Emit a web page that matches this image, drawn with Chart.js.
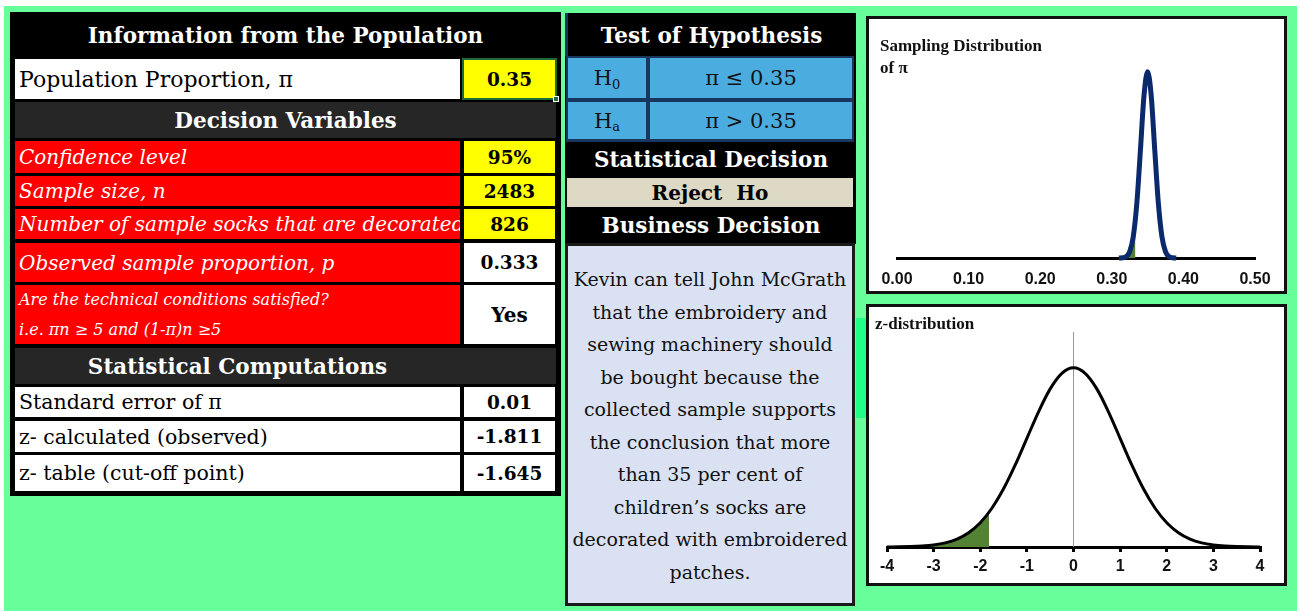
<!DOCTYPE html>
<html><head><meta charset="utf-8">
<script src="https://cdn.jsdelivr.net/npm/chart.js@4.4.0/dist/chart.umd.min.js"></script>
<style>
body{margin:0;background:#fff;width:1300px;height:611px;overflow:hidden;position:relative;font-family:"DejaVu Serif",serif;}
.a{position:absolute;box-sizing:border-box;}
.c{position:absolute;box-sizing:border-box;display:flex;align-items:center;white-space:nowrap;overflow:hidden;}
.hd{justify-content:center;color:#fff;font-weight:bold;font-size:21.5px;}
.lbl{font-size:20.5px;padding-left:4px;color:#000;}
.red{background:#ff0000;color:#fff;font-style:italic;font-size:20px;}
.val{justify-content:center;font-weight:bold;font-size:18.5px;color:#000;}
.yel{background:#ffff00;}
.wht{background:#fff;}
.blue{background:#4bace0;justify-content:center;font-size:21px;color:#111;}
.ttl{position:absolute;font-family:"Liberation Serif",serif;font-weight:bold;font-size:17px;color:#111;line-height:22px;}
</style></head>
<body>
<div class="a" style="left:4px;top:6px;width:1293px;height:605px;background:#66ff99;"></div>
<div class="a" style="left:856px;top:318px;width:10px;height:100px;background:#22ff88;"></div>

<!-- left table -->
<div class="a" style="left:10px;top:12px;width:551px;height:484px;background:#000;"></div>
<div class="c hd" style="left:14px;top:13px;width:543px;height:44px;">Information from the Population</div>
<div class="c lbl wht" style="left:15px;top:59px;width:445px;height:40px;font-size:22px;">Population Proportion, π</div>
<div class="c val yel" style="left:462px;top:58px;width:95px;height:42px;border:2px solid #1e6b3a;">0.35</div>
<div class="a" style="left:553px;top:96px;width:6px;height:6px;background:#1e6b3a;border:1px solid #fff;"></div>
<div class="c hd" style="left:15px;top:102px;width:541px;height:36px;background:#262626;">Decision Variables</div>
<div class="c lbl red" style="left:15px;top:141px;width:445px;height:32px;">Confidence level</div>
<div class="c val yel" style="left:464px;top:141px;width:91px;height:32px;">95%</div>
<div class="c lbl red" style="left:15px;top:176px;width:445px;height:30px;">Sample size, n</div>
<div class="c val yel" style="left:464px;top:176px;width:91px;height:30px;">2483</div>
<div class="c lbl red" style="left:15px;top:209px;width:445px;height:30px;">Number of sample socks that are decorated</div>
<div class="c val yel" style="left:464px;top:209px;width:91px;height:30px;">826</div>
<div class="c lbl red" style="left:15px;top:243px;width:445px;height:39px;">Observed sample proportion, p</div>
<div class="c val wht" style="left:464px;top:243px;width:91px;height:39px;">0.333</div>
<div class="c lbl red" style="left:15px;top:285px;width:445px;height:59px;font-size:16px;flex-direction:column;align-items:flex-start;justify-content:center;line-height:30px;"><div>Are the technical conditions satisfied?</div><div>i.e. πn ≥ 5 and (1-π)n ≥5</div></div>
<div class="c val wht" style="left:464px;top:285px;width:91px;height:59px;font-size:20px;">Yes</div>
<div class="a" style="left:15px;top:348px;width:541px;height:36px;background:#262626;"></div>
<div class="c hd" style="left:15px;top:348px;width:445px;height:36px;">Statistical Computations</div>
<div class="c lbl wht" style="left:15px;top:387px;width:445px;height:30px;">Standard error of π</div>
<div class="c val wht" style="left:464px;top:387px;width:91px;height:30px;">0.01</div>
<div class="c lbl wht" style="left:15px;top:421px;width:445px;height:31px;">z- calculated (observed)</div>
<div class="c val wht" style="left:464px;top:421px;width:91px;height:31px;">-1.811</div>
<div class="c lbl wht" style="left:15px;top:455px;width:445px;height:36px;">z- table (cut-off point)</div>
<div class="c val wht" style="left:464px;top:455px;width:91px;height:36px;">-1.645</div>

<!-- middle panel -->
<div class="a" style="left:565px;top:13px;width:291px;height:231px;background:#000;"></div>
<div class="a" style="left:565px;top:13px;width:3px;height:43px;background:#17375e;"></div>
<div class="c hd" style="left:568px;top:14px;width:287px;height:42px;font-size:21.5px;">Test of Hypothesis</div>
<div class="a" style="left:566px;top:56px;width:288px;height:86px;background:#17375e;"></div>
<div class="c blue" style="left:568px;top:58px;width:78px;height:40px;">H<sub style="font-size:13px;position:relative;top:6px;">0</sub></div>
<div class="c blue" style="left:650px;top:58px;width:202px;height:40px;">π ≤ 0.35</div>
<div class="c blue" style="left:568px;top:102px;width:78px;height:37px;">H<sub style="font-size:13px;position:relative;top:6px;">a</sub></div>
<div class="c blue" style="left:650px;top:102px;width:202px;height:37px;">π &gt; 0.35</div>
<div class="c hd" style="left:567px;top:142px;width:288px;height:34px;">Statistical Decision</div>
<div class="c val" style="left:567px;top:178px;width:286px;height:29px;background:#ddd9c4;font-size:20px;">Reject&nbsp; Ho</div>
<div class="c hd" style="left:567px;top:208px;width:288px;height:35px;">Business Decision</div>
<div class="a" style="left:565px;top:243px;width:290px;height:363px;background:#d9e1f2;border:3px solid #1a1a1a;font-size:19px;line-height:32.5px;text-align:center;padding-top:17px;color:#111;white-space:nowrap;">Kevin can tell John McGrath<br>that the embroidery and<br>sewing machinery should<br>be bought because the<br>collected sample supports<br>the conclusion that more<br>than 35 per cent of<br>children’s socks are<br>decorated with embroidered<br>patches.</div>

<!-- chart boxes -->
<div class="a" style="left:866px;top:16px;width:421px;height:278px;background:#fff;border:3px solid #111;"></div>
<canvas id="c1" class="a" width="416" height="272" style="left:869px;top:19px;"></canvas>
<div class="ttl" style="left:880px;top:35px;">Sampling Distribution<br>of π</div>

<div class="a" style="left:866px;top:304px;width:421px;height:282px;background:#fff;border:3px solid #111;"></div>
<canvas id="c2" class="a" width="416" height="277" style="left:869px;top:306px;"></canvas>
<div class="ttl" style="left:875px;top:313px;">z-distribution</div>

<script>
// ---- data ----
const piTickValues = [0.0, 0.1, 0.2, 0.3, 0.4, 0.5];
const piX = [0.31, 0.315, 0.32, 0.325, 0.33, 0.335, 0.34, 0.345, 0.35, 0.355, 0.36, 0.365, 0.37, 0.375, 0.38, 0.385, 0.39];
const piDensity = [0.0002, 0.0013, 0.0076, 0.034, 0.115, 0.295, 0.58, 0.873, 1.0, 0.873, 0.58, 0.295, 0.115, 0.034, 0.0076, 0.0013, 0.0002];
const piShadeX = [0.31, 0.315, 0.32, 0.325, 0.33, 0.333];
const piShadeY = [0.0002, 0.0013, 0.0076, 0.034, 0.115, 0.2];

const zTickValues = [-4, -3, -2, -1, 0, 1, 2, 3, 4];
const zX = [-4, -3.75, -3.5, -3.25, -3, -2.75, -2.5, -2.25, -2, -1.75, -1.5, -1.25, -1, -0.75, -0.5, -0.25, 0,
            0.25, 0.5, 0.75, 1, 1.25, 1.5, 1.75, 2, 2.25, 2.5, 2.75, 3, 3.25, 3.5, 3.75, 4];
const zDensity = [0.0003, 0.0009, 0.0022, 0.0051, 0.0111, 0.0228, 0.0439, 0.0796, 0.1353, 0.2163, 0.3247, 0.4578, 0.6065, 0.7548, 0.8825, 0.9692, 1.0,
                  0.9692, 0.8825, 0.7548, 0.6065, 0.4578, 0.3247, 0.2163, 0.1353, 0.0796, 0.0439, 0.0228, 0.0111, 0.0051, 0.0022, 0.0009, 0.0003];
const zShadeX = [-4, -3.75, -3.5, -3.25, -3, -2.75, -2.5, -2.25, -2, -1.811];
const zShadeY = [0.0003, 0.0009, 0.0022, 0.0051, 0.0111, 0.0228, 0.0439, 0.0796, 0.1353, 0.194];
const zZeroLineX = [0, 0];
const zZeroLineY = [0, 1.2];

const pts = (xs, ys) => xs.map((x, i) => ({x: x, y: ys[i]}));
const tickFont = {family: '"Liberation Sans", Arial, sans-serif', size: 16, weight: 'bold'};

new Chart(document.getElementById('c1'), {
  type: 'line',
  data: {datasets: [
    {data: pts(piX, piDensity), borderColor: '#0b2a6b', borderWidth: 5, pointRadius: 0, fill: false,
     cubicInterpolationMode: 'monotone', order: 0, clip: false},
    {data: pts(piShadeX, piShadeY), borderWidth: 0, borderColor: 'rgba(0,0,0,0)', backgroundColor: '#548235',
     pointRadius: 0, fill: 'origin', cubicInterpolationMode: 'monotone', order: 1}
  ]},
  options: {
    responsive: false, animation: false, devicePixelRatio: 1,
    layout: {padding: {left: 28, right: 30, top: 34, bottom: 0}},
    plugins: {legend: {display: false}, tooltip: {enabled: false}},
    scales: {
      x: {type: 'linear', min: 0, max: 0.5,
          afterBuildTicks: s => { s.ticks = piTickValues.map(v => ({value: v})); },
          afterFit: s => { s.height = 33; },
          grid: {display: false, drawTicks: false},
          border: {display: true, color: '#000', width: 3},
          ticks: {color: '#111', font: tickFont, padding: 12, maxRotation: 0, autoSkip: false,
                  callback: v => Number(v).toFixed(2)}},
      y: {display: false, min: 0, max: 1.1}
    }
  }
});

new Chart(document.getElementById('c2'), {
  type: 'line',
  data: {datasets: [
    {data: pts(zX, zDensity), borderColor: '#000', borderWidth: 3, pointRadius: 0, fill: false,
     cubicInterpolationMode: 'monotone', order: 0, clip: false},
    {data: pts(zShadeX, zShadeY), borderWidth: 0, borderColor: 'rgba(0,0,0,0)', backgroundColor: '#548235',
     pointRadius: 0, fill: 'origin', cubicInterpolationMode: 'monotone', order: 1},
    {data: pts(zZeroLineX, zZeroLineY), borderColor: '#999', borderWidth: 1, pointRadius: 0, fill: false, order: 2}
  ]},
  options: {
    responsive: false, animation: false, devicePixelRatio: 1,
    layout: {padding: {left: 18, right: 25, top: 26, bottom: 0}},
    plugins: {legend: {display: false}, tooltip: {enabled: false}},
    scales: {
      x: {type: 'linear', min: -4, max: 4,
          afterBuildTicks: s => { s.ticks = zTickValues.map(v => ({value: v})); },
          afterFit: s => { s.height = 36; },
          grid: {display: true, drawOnChartArea: false, drawTicks: true, tickLength: 5, color: '#000', lineWidth: 3},
          border: {display: true, color: '#000', width: 3},
          ticks: {color: '#111', font: tickFont, padding: 5, maxRotation: 0, autoSkip: false,
                  callback: v => String(v)}},
      y: {display: false, min: 0, max: 1.2}
    }
  }
});
</script>
</body></html>
